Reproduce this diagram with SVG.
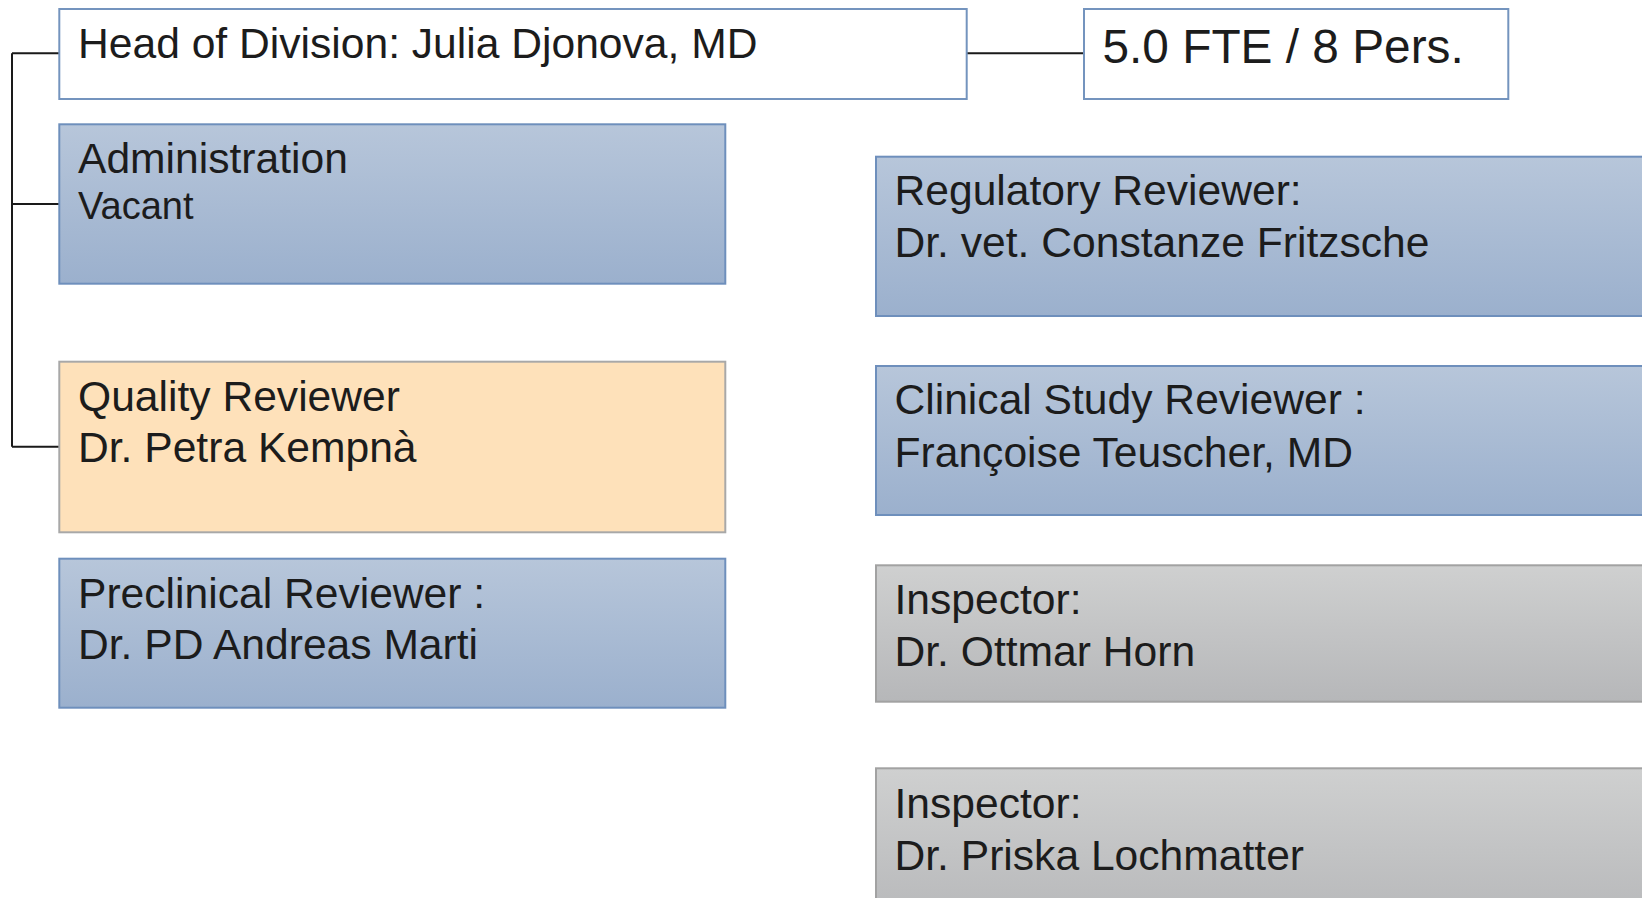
<svg xmlns="http://www.w3.org/2000/svg" width="1642" height="898" viewBox="0 0 1642 898">
<defs>
<linearGradient id="gBlue" x1="0" y1="0" x2="0" y2="1">
<stop offset="0" stop-color="#B7C6DA"/>
<stop offset="1" stop-color="#9BB0CD"/>
</linearGradient>
<linearGradient id="gGray" x1="0" y1="0" x2="0" y2="1">
<stop offset="0" stop-color="#CFD0D0"/>
<stop offset="1" stop-color="#B6B7B9"/>
</linearGradient>
</defs>
<style>
text{font-family:"Liberation Sans",Arial,sans-serif;font-size:42.6px;fill:#1c1c1c}
.white{fill:#FFFFFF;stroke:#7494BE;stroke-width:2}
.blue{fill:url(#gBlue);stroke:#6E8FBC;stroke-width:2}
.peach{fill:#FEE1BA;stroke:#A8A8A8;stroke-width:2}
.gray{fill:url(#gGray);stroke:#A2A2A2;stroke-width:2}
.conn{fill:none;stroke:#1a1a1a;stroke-width:2}
</style>
<rect width="1642" height="898" fill="#FFFFFF"/>
<g id="connectors">
<path class="conn" d="M12 53.3 V446.7 M12 53.3 H59.3 M12 204 H59.3 M12 446.7 H59.3 M966.7 53.3 H1084"/>
</g>
<g id="head">
<rect class="white" x="59.3" y="9" width="907.4" height="90"/>
<text x="78" y="58.3">Head of Division: Julia Djonova, MD</text>
</g>
<g id="fte">
<rect class="white" x="1084" y="9" width="424.3" height="90"/>
<text x="1102.5" y="62.7" style="font-size:47.8px">5.0 FTE / 8 Pers.</text>
</g>
<g id="administration">
<rect class="blue" x="59.3" y="124.3" width="666" height="159.4"/>
<text x="78" y="172.7">Administration</text>
<text x="78" y="219.3" style="font-size:38px">Vacant</text>
</g>
<g id="quality">
<rect class="peach" x="59.3" y="361.7" width="666" height="170.6"/>
<text x="78" y="410.8">Quality Reviewer</text>
<text x="78" y="462.2">Dr. Petra Kempnà</text>
</g>
<g id="preclinical">
<rect class="blue" x="59.3" y="558.7" width="666" height="149"/>
<text x="78" y="607.8">Preclinical Reviewer :</text>
<text x="78" y="659.3">Dr. PD Andreas Marti</text>
</g>
<g id="regulatory">
<rect class="blue" x="876" y="156.7" width="800" height="159.3"/>
<text x="894.5" y="205">Regulatory Reviewer:</text>
<text x="894.5" y="257.3">Dr. vet. Constanze Fritzsche</text>
</g>
<g id="clinical">
<rect class="blue" x="876" y="366" width="800" height="149"/>
<text x="894.5" y="414.3">Clinical Study Reviewer :</text>
<text x="894.5" y="466.6">Françoise Teuscher, MD</text>
</g>
<g id="inspector1">
<rect class="gray" x="876" y="565.3" width="800" height="136.4"/>
<text x="894.5" y="614.3">Inspector:</text>
<text x="894.5" y="666">Dr. Ottmar Horn</text>
</g>
<g id="inspector2">
<rect class="gray" x="876" y="768.3" width="800" height="160"/>
<text x="894.5" y="817.7">Inspector:</text>
<text x="894.5" y="870">Dr. Priska Lochmatter</text>
</g>
</svg>
